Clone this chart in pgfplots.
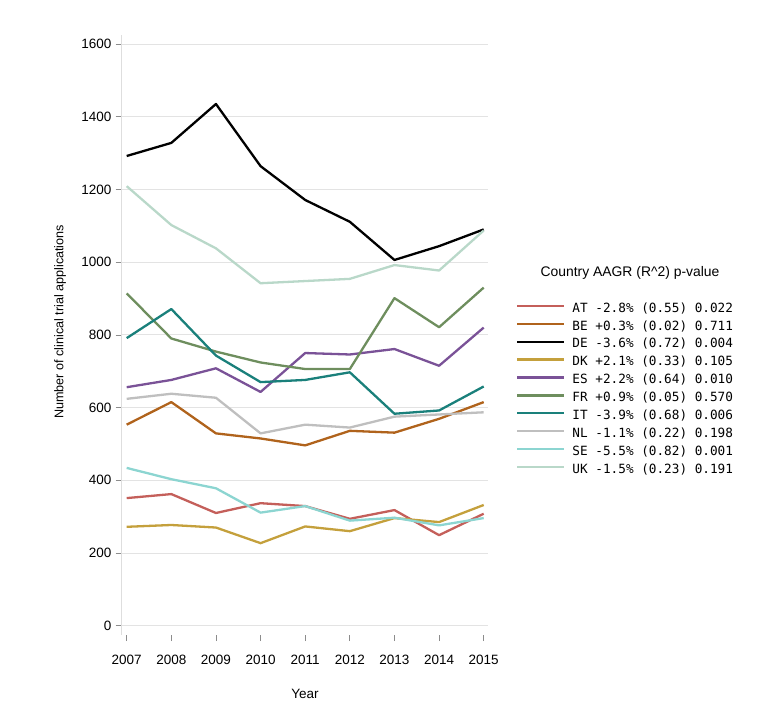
\documentclass[border=0pt]{standalone}
\usepackage{fontspec}
\setmainfont{Liberation Sans}
\newfontfamily\monofont{DejaVu Sans Mono}
\usepackage{pgfplots}
\pgfplotsset{compat=1.18}
\definecolor{cAT}{HTML}{C45F5A}
\definecolor{cBE}{HTML}{B0631C}
\definecolor{cDE}{HTML}{000000}
\definecolor{cDK}{HTML}{C4A03C}
\definecolor{cES}{HTML}{7A5297}
\definecolor{cFR}{HTML}{6E8E5E}
\definecolor{cIT}{HTML}{1A807B}
\definecolor{cNL}{HTML}{BFBFBF}
\definecolor{cSE}{HTML}{8CD5D1}
\definecolor{cUK}{HTML}{B9D8C9}
\tikzset{ser/.style={draw=#1, line width=2.3pt, line join=round}}
\begin{document}
\begin{tikzpicture}
\path[use as bounding box] (0,0) rectangle (765pt,726pt);
\begin{axis}[
  at={(121.7pt,91pt)}, anchor=south west,
  scale only axis, width=366.6pt, height=600pt,
  xmin=2006.888, xmax=2015.103, ymin=-25.6, ymax=1624.8,
  axis lines=left,
  axis line style={-, draw=black!13, line width=0.8pt},
  x axis line style={draw=none},
  tick align=outside,
  major tick length=6pt,
  tick style={black!45, line width=0.7pt},
  xtick={2007,2008,...,2015},
  ytick={0,200,...,1600},
  /pgf/number format/1000 sep={},
  /pgf/number format/assume math mode=true,
  ticklabel style={font=\fontsize{13.5}{16}\selectfont},
  xticklabel style={anchor=center, yshift=-19pt},
  yticklabel style={anchor=east, inner xsep=0pt, xshift=-4pt},
  ymajorgrids,
  major grid style={black!11, line width=0.8pt},
  xlabel={Year},
  xlabel style={font=\fontsize{13.5}{16}\selectfont, at={(axis description cs:0.5,-0.098)}, anchor=center},
  ylabel={Number of clinical trial applications},
  ylabel style={font=\fontsize{12.6}{15}\selectfont, at={(axis description cs:-0.168,0.5217)}, anchor=center, rotate=0},
  legend cell align=left,
  legend image code/.code={\draw[#1] (0pt,0.33em) -- (47pt,0.33em); \path (50pt,0.33em);},
  legend style={
    at={(1.0755,0.5583)}, anchor=north west,
    draw=none, fill=none, inner sep=0pt,
    row sep=0pt, column sep=0pt,
    font=\monofont\fontsize{12.7}{15}\selectfont,
    nodes={inner xsep=4pt, inner ysep=2.45pt, text height=9.5pt, text depth=3.5pt, anchor=west}
  },
]
\addplot[ser=cAT] coordinates {(2007,351) (2008,362) (2009,310) (2010,337) (2011,329) (2012,294) (2013,318) (2014,249) (2015,308)};
\addlegendentry{AT -2.8\% (0.55) 0.022}
\addplot[ser=cBE] coordinates {(2007,553) (2008,615) (2009,529) (2010,515) (2011,496) (2012,536) (2013,531) (2014,569) (2015,615)};
\addlegendentry{BE +0.3\% (0.02) 0.711}
\addplot[ser=cDE] coordinates {(2007,1292) (2008,1328) (2009,1435) (2010,1264) (2011,1171) (2012,1111) (2013,1006) (2014,1044) (2015,1090)};
\addlegendentry{DE -3.6\% (0.72) 0.004}
\addplot[ser=cDK] coordinates {(2007,272) (2008,277) (2009,270) (2010,227) (2011,273) (2012,260) (2013,296) (2014,285) (2015,332)};
\addlegendentry{DK +2.1\% (0.33) 0.105}
\addplot[ser=cES] coordinates {(2007,656) (2008,676) (2009,708) (2010,643) (2011,750) (2012,746) (2013,761) (2014,715) (2015,820)};
\addlegendentry{ES +2.2\% (0.64) 0.010}
\addplot[ser=cFR] coordinates {(2007,914) (2008,790) (2009,754) (2010,724) (2011,706) (2012,706) (2013,901) (2014,821) (2015,930)};
\addlegendentry{FR +0.9\% (0.05) 0.570}
\addplot[ser=cIT] coordinates {(2007,791) (2008,871) (2009,743) (2010,670) (2011,676) (2012,697) (2013,583) (2014,592) (2015,658)};
\addlegendentry{IT -3.9\% (0.68) 0.006}
\addplot[ser=cNL] coordinates {(2007,624) (2008,638) (2009,627) (2010,529) (2011,553) (2012,545) (2013,575) (2014,581) (2015,587)};
\addlegendentry{NL -1.1\% (0.22) 0.198}
\addplot[ser=cSE] coordinates {(2007,434) (2008,403) (2009,378) (2010,311) (2011,329) (2012,289) (2013,297) (2014,276) (2015,296)};
\addlegendentry{SE -5.5\% (0.82) 0.001}
\addplot[ser=cUK] coordinates {(2007,1209) (2008,1102) (2009,1038) (2010,942) (2011,948) (2012,954) (2013,992) (2014,977) (2015,1087)};
\addlegendentry{UK -1.5\% (0.23) 0.191}
\end{axis}
\node[font=\fontsize{13.9}{16}\selectfont, anchor=center] at (630pt,453pt) {Country AAGR (R\textasciicircum 2) p-value};
\end{tikzpicture}
\end{document}
